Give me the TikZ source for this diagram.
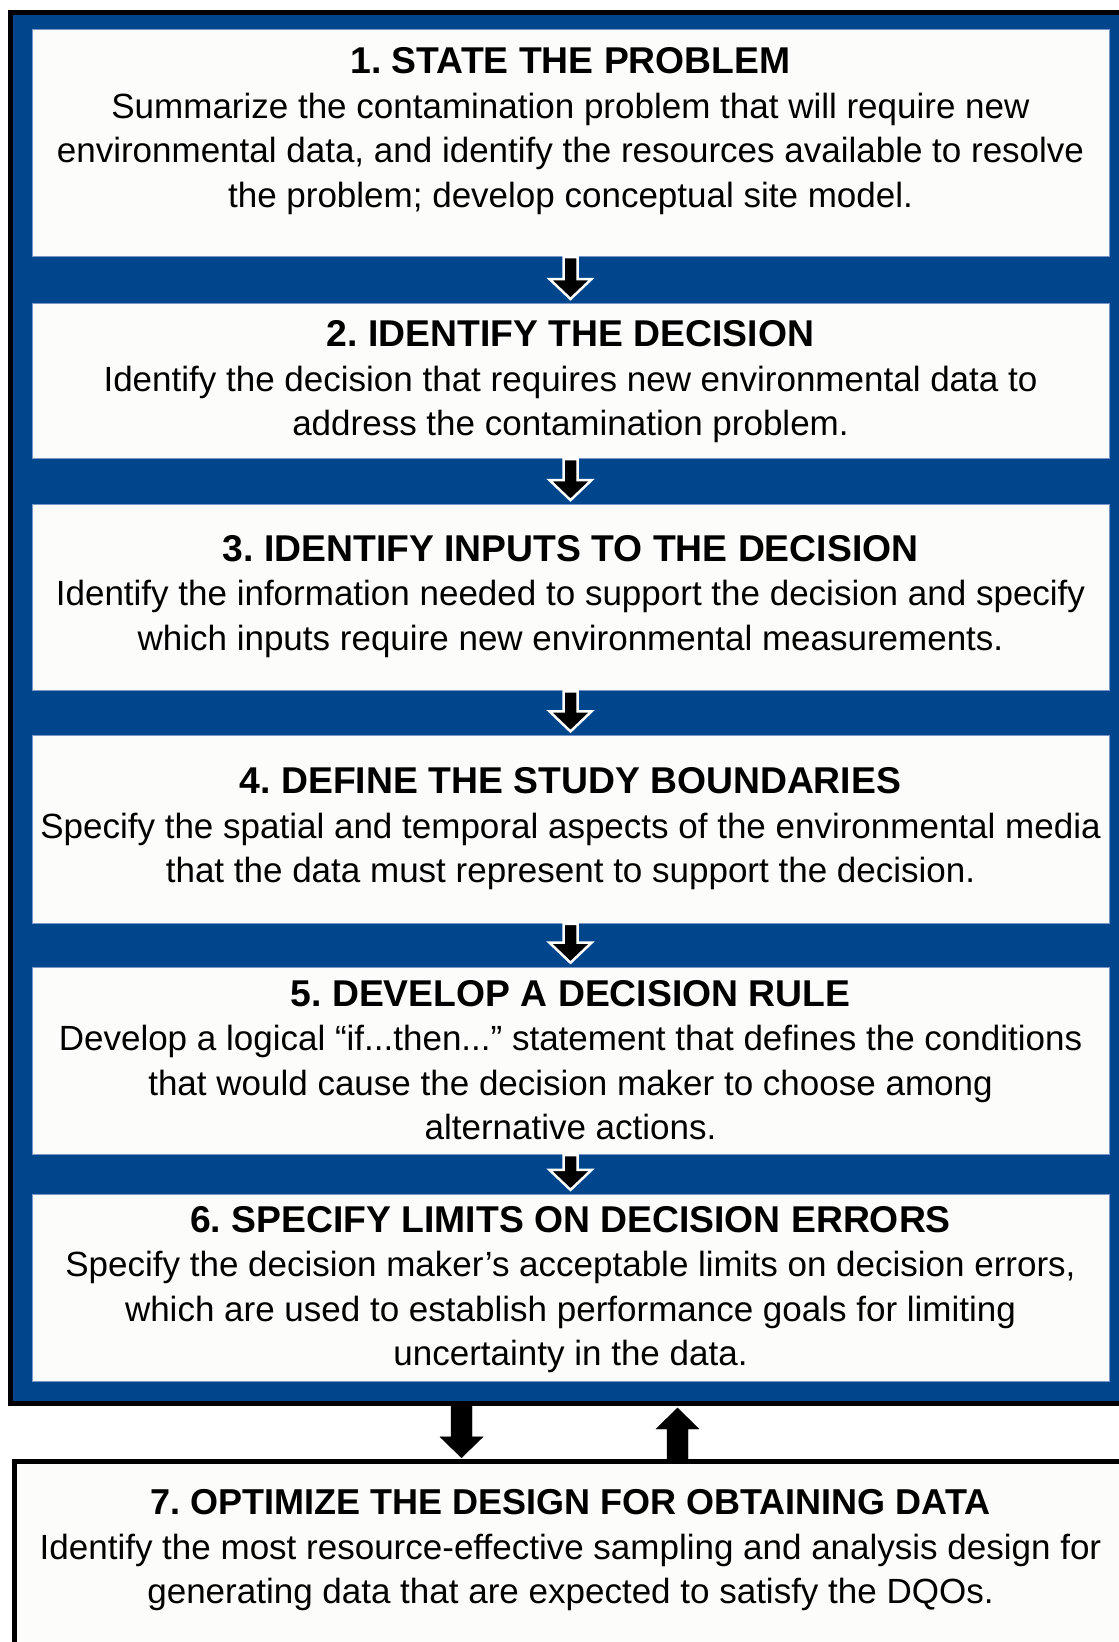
\documentclass[tikz,border=0pt]{standalone}
\usepackage{fontspec}
\setmainfont{Liberation Sans}
\usetikzlibrary{calc}
\definecolor{frameblue}{RGB}{0,70,140}
\definecolor{boxwhite}{RGB}{252,252,250}
\definecolor{boxedge}{RGB}{120,150,200}
\newcommand\boxtitle[2][37.3pt]{{\fontsize{#1}{44.5pt}\selectfont\bfseries #2}}
\tikzset{
  fatdown/.style n args={4}{to path={let \p1=(\tikztostart), \p2=(\tikztotarget) in
    (\x1-#1,\y1) -- (\x1-#1,\y2+#4+#3) -- (\x1-#2,\y2+#4+#3) -- (\x1,\y2+#4)
    -- (\x1+#2,\y2+#4+#3) -- (\x1+#1,\y2+#4+#3) -- (\x1+#1,\y1) -- cycle}},
  fatup/.style n args={4}{to path={let \p1=(\tikztostart), \p2=(\tikztotarget) in
    (\x1-#1,\y1) -- (\x1-#1,\y2-#4-#3) -- (\x1-#2,\y2-#4-#3) -- (\x1,\y2-#4)
    -- (\x1+#2,\y2-#4-#3) -- (\x1+#1,\y2-#4-#3) -- (\x1+#1,\y1) -- cycle}},
}
\begin{document}
\frenchspacing
\begin{tikzpicture}[x=1pt,y=-1pt,
  stepbox/.style={draw=boxedge, line width=1pt, fill=boxwhite, inner sep=0pt, minimum width=1077pt},
  txt/.style={align=center, inner sep=0pt, anchor=north, font=\fontsize{35pt}{44.5pt}\selectfont},
  smallarrow/.style={draw=white, line width=2.5pt, fill=black, line join=miter},
  bigarrow/.style={fill=black},
  frame/.style={draw=black, line width=5pt, fill=frameblue, inner sep=0pt},
  lastbox/.style={draw=black, line width=5.5pt, fill=boxwhite, inner sep=0pt}]
\useasboundingbox (0,0) rectangle (1119,1642);
\fill[white] (0,0) rectangle (1119,1642);
\clip (0,0) rectangle (1119,1642);

% outer blue frame
\node[frame, minimum width=1122pt, minimum height=1391pt] (frame) at (571.5,708) {};

% step boxes
\node[stepbox, minimum height=227.2pt] (b1) at (570.5,142.9) {};
\node[stepbox, minimum height=155pt]   (b2) at (570.5,381) {};
\node[stepbox, minimum height=186.3pt] (b3) at (570.5,597.8) {};
\node[stepbox, minimum height=187.4pt] (b4) at (570.5,829.6) {};
\node[stepbox, minimum height=187.4pt] (b5) at (570.5,1060.9) {};
\node[stepbox, minimum height=187.4pt] (b6) at (570.5,1288.1) {};
\node[lastbox, minimum width=1120.5pt, minimum height=198.5pt] (b7) at (574.75,1560.75) {};

% texts
\node[txt] (t1) at (570.5,47.3) {\boxtitle{1. STATE THE PROBLEM}\\
Summarize the contamination problem that will require new\\
environmental data, and identify the resources available to resolve\\
the problem; develop conceptual site model.};
\node[txt] (t2) at (570.5,320.5) {\boxtitle{2. IDENTIFY THE DECISION}\\
Identify the decision that requires new environmental data to\\
address the contamination problem.};
\node[txt] (t3) at (570.5,535.1) {\boxtitle{3. IDENTIFY INPUTS TO THE DECISION}\\
Identify the information needed to support the decision and specify\\
which inputs require new environmental measurements.};
\node[txt] (t4) at (570.5,767.5) {\boxtitle{4. DEFINE THE STUDY BOUNDARIES}\\
Specify the spatial and temporal aspects of the environmental media\\
that the data must represent to support the decision.};
\node[txt] (t5) at (570.5,980) {\boxtitle{5. DEVELOP A DECISION RULE}\\
Develop a logical “if...then...” statement that defines the conditions\\
that would cause the decision maker to choose among\\
alternative actions.};
\node[txt] (t6) at (570.5,1206.1) {\boxtitle{6. SPECIFY LIMITS ON DECISION ERRORS}\\
Specify the decision maker’s acceptable limits on decision errors,\\
which are used to establish performance goals for limiting\\
uncertainty in the data.};
\node[txt] (t7) at (570.5,1489.3) {\boxtitle[36pt]{7. OPTIMIZE THE DESIGN FOR OBTAINING DATA}\\
Identify the most resource-effective sampling and analysis design for\\
generating data that are expected to satisfy the DQOs.};

% small arrows between steps
\draw[smallarrow, fatdown={7pt}{21pt}{20pt}{4pt}] (b1.south) to (b2.north);
\draw[smallarrow, fatdown={7pt}{21pt}{20pt}{4pt}] (b2.south) to (b3.north);
\draw[smallarrow, fatdown={7pt}{21pt}{20pt}{4pt}] (b3.south) to (b4.north);
\draw[smallarrow, fatdown={7pt}{21pt}{20pt}{4pt}] (b4.south) to (b5.north);
\draw[smallarrow, fatdown={7pt}{21pt}{20pt}{4pt}] (b5.south) to (b6.north);

% big arrows between frame and step 7
\coordinate (dx) at (461.5,0);
\coordinate (ux) at (677.5,0);
\coordinate (d1) at (frame.south -| dx);
\coordinate (d2) at (b7.north -| dx);
\coordinate (u1) at (b7.north -| ux);
\coordinate (u2) at (frame.south -| ux);
\draw[bigarrow, fatdown={10.5pt}{21.5pt}{21pt}{1pt}] (d1) to (d2);
\draw[bigarrow, fatup={10.5pt}{21.5pt}{21pt}{2pt}] (u1) to (u2);
\end{tikzpicture}
\end{document}
